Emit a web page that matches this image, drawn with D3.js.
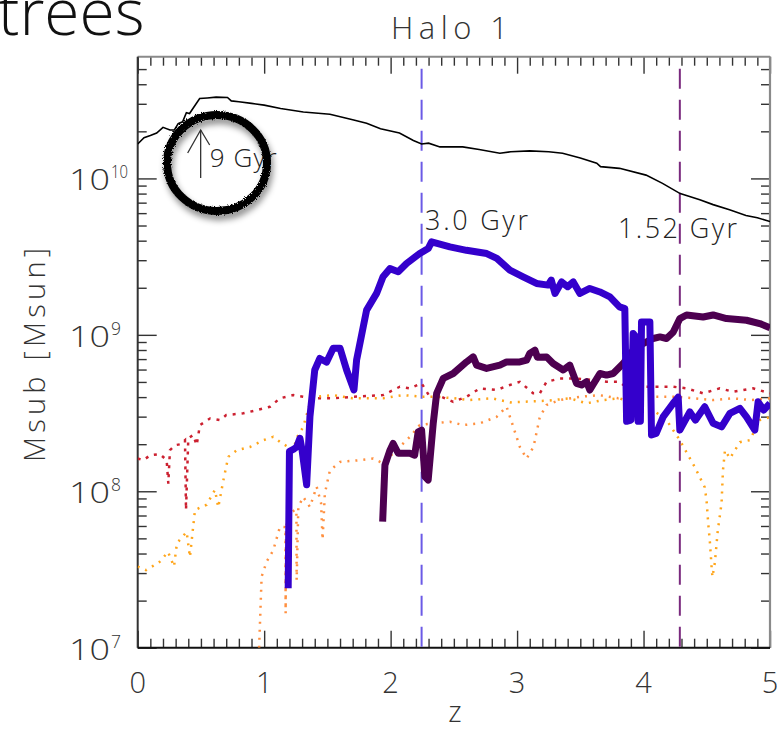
<!DOCTYPE html>
<html>
<head>
<meta charset="utf-8">
<script src="https://cdn.jsdelivr.net/npm/d3@7"></script>
<style>
  html, body { margin: 0; padding: 0; background: #fff; }
  svg { display: block; }
  text { font-family: "Open Sans", "Lato", "DejaVu Sans", sans-serif; font-weight: 300; fill: #222; }
</style>
</head>
<body>
<svg id="chart" width="777" height="732"></svg>
<script>
// Halo 1: subhalo mass histories along the merger tree, Msub vs redshift z

const xTicks = [0, 1, 2, 3, 4, 5];
const yDecades = [7, 8, 9, 10];

// main halo
const mainHalo = [
  [0, 1.66e10], [0.05, 1.82e10], [0.10, 1.88e10], [0.15, 1.95e10], [0.20, 2.12e10],
  [0.255, 2.04e10], [0.29, 2.04e10], [0.32, 2.24e10], [0.355, 2.3e10], [0.385, 2.63e10],
  [0.41, 2.6e10], [0.43, 2.75e10], [0.49, 3.24e10], [0.55, 3.27e10], [0.62, 3.31e10],
  [0.71, 3.29e10], [0.74, 3.13e10], [0.80, 3.09e10], [0.90, 3.02e10], [1.0, 2.94e10],
  [1.13, 2.8e10], [1.31, 2.66e10], [1.52, 2.57e10], [1.70, 2.37e10], [1.81, 2.25e10],
  [1.92, 2.08e10], [2.07, 1.95e10], [2.18, 1.75e10], [2.245, 1.66e10], [2.30, 1.68e10],
  [2.39, 1.59e10], [2.57, 1.59e10], [2.70, 1.53e10], [2.864, 1.45e10], [2.95, 1.48e10],
  [3.10, 1.5e10], [3.25, 1.48e10], [3.36, 1.45e10], [3.50, 1.35e10], [3.63, 1.25e10],
  [3.66, 1.19e10], [3.81, 1.16e10], [4.02, 1.05e10], [4.15, 9.3e9], [4.29, 8.0e9],
  [4.445, 7.3e9], [4.55, 6.8e9], [4.68, 6.3e9], [4.81, 5.8e9], [4.9, 5.6e9], [5.0, 5.3e9]
];

// subhalo A (thick blue)
const subBlue = [
  [1.19, 2.4e7], [1.20, 1.8e8], [1.23, 1.85e8], [1.257, 1.92e8], [1.283, 2.18e8],
  [1.30, 1.83e8], [1.336, 1.1e8], [1.362, 3.0e8], [1.40, 5.96e8], [1.44, 7.06e8],
  [1.494, 6.7e8], [1.546, 8.2e8], [1.60, 8.2e8], [1.652, 5.96e8], [1.71, 4.44e8],
  [1.731, 6.9e8], [1.783, 1.12e9], [1.81, 1.44e9], [1.889, 1.84e9], [1.94, 2.35e9],
  [1.995, 2.65e9], [2.06, 2.53e9], [2.126, 2.86e9], [2.23, 3.31e9], [2.297, 3.56e9],
  [2.324, 3.93e9], [2.469, 3.65e9], [2.60, 3.47e9], [2.76, 3.31e9], [2.84, 3.08e9],
  [2.943, 2.59e9], [3.048, 2.35e9], [3.154, 2.13e9], [3.246, 2.08e9], [3.27, 2.24e9],
  [3.30, 1.84e9], [3.352, 2.18e9], [3.40, 2.03e9], [3.444, 2.18e9], [3.497, 1.84e9],
  [3.575, 1.98e9], [3.655, 1.88e9], [3.734, 1.75e9], [3.81, 1.51e9], [3.852, 1.47e9],
  [3.866, 2.8e8], [3.90, 2.85e8], [3.918, 1.02e9], [3.94, 9.7e8], [3.957, 2.8e8],
  [3.975, 2.8e8], [3.984, 1.21e9], [4.05, 1.21e9], [4.063, 2.29e8], [4.10, 2.34e8],
  [4.155, 2.99e8], [4.234, 3.65e8], [4.274, 4.0e8], [4.287, 2.46e8], [4.366, 3.22e8],
  [4.41, 2.85e8], [4.484, 3.47e8], [4.55, 2.72e8], [4.617, 2.58e8], [4.683, 3.15e8],
  [4.762, 3.39e8], [4.814, 2.99e8], [4.88, 2.46e8], [4.906, 3.73e8], [4.95, 3.3e8],
  [5.0, 3.65e8]
];

// subhalo B (thick dark purple)
const subPurple = [
  [1.937, 6.4e7], [1.955, 1.47e8], [1.995, 1.83e8], [2.02, 2.02e8], [2.06, 1.75e8],
  [2.153, 1.75e8], [2.19, 1.7e8], [2.218, 2.4e8], [2.245, 2.46e8], [2.271, 1.24e8],
  [2.297, 1.18e8], [2.337, 2.72e8], [2.364, 4.23e8], [2.416, 5.27e8], [2.495, 5.66e8],
  [2.60, 6.71e8], [2.653, 7.23e8], [2.68, 6.4e8], [2.759, 6.1e8], [2.864, 6.4e8],
  [2.917, 6.71e8], [3.022, 6.71e8], [3.075, 6.89e8], [3.10, 7.6e8], [3.141, 7.98e8],
  [3.16, 7.2e8], [3.233, 7.23e8], [3.285, 6.56e8], [3.365, 5.96e8], [3.417, 6.4e8],
  [3.47, 4.9e8], [3.51, 4.78e8], [3.549, 5.01e8], [3.575, 4.44e8], [3.60, 4.8e8],
  [3.655, 5.66e8], [3.707, 5.53e8], [3.76, 5.66e8], [3.839, 6.56e8], [3.918, 7.98e8],
  [3.971, 8.59e8], [4.024, 9.02e8], [4.076, 9.48e8], [4.13, 9.7e8], [4.182, 9.48e8],
  [4.234, 1.04e9], [4.287, 1.27e9], [4.34, 1.34e9], [4.471, 1.3e9], [4.55, 1.34e9],
  [4.656, 1.27e9], [4.814, 1.24e9], [4.919, 1.18e9], [5.0, 1.11e9]
];

// thin dotted companions
const subRed = [
  [0, 1.62e8], [0.044, 1.58e8], [0.10, 1.7e8], [0.176, 1.73e8], [0.229, 1.58e8],
  [0.242, 1.12e8], [0.255, 1.83e8], [0.295, 1.97e8], [0.34, 2.0e8], [0.374, 2.12e8],
  [0.382, 7.6e7], [0.40, 2.18e8], [0.44, 2.29e8], [0.466, 1.97e8], [0.492, 2.65e8],
  [0.572, 2.92e8], [0.65, 2.85e8], [0.70, 3.07e8], [0.835, 3.15e8], [0.94, 3.3e8],
  [1.046, 3.47e8], [1.125, 3.93e8], [1.23, 4.12e8], [1.283, 4.05e8], [1.388, 3.93e8],
  [1.55, 3.93e8], [1.704, 4.02e8], [1.94, 4.12e8], [2.073, 4.66e8], [2.15, 4.55e8],
  [2.245, 4.9e8], [2.31, 4.02e8], [2.40, 4.02e8], [2.495, 3.73e8], [2.60, 4.02e8],
  [2.706, 4.55e8], [2.838, 4.44e8], [2.943, 4.78e8], [3.022, 5.01e8], [3.127, 4.23e8],
  [3.18, 4.23e8], [3.233, 5.01e8], [3.338, 5.26e8], [3.45, 5.26e8], [3.60, 5.14e8],
  [3.707, 5.01e8], [3.81, 5.01e8], [3.89, 4.44e8], [3.97, 4.66e8], [4.076, 4.66e8],
  [4.234, 4.66e8], [4.34, 4.55e8], [4.471, 4.23e8], [4.603, 4.55e8], [4.708, 4.33e8],
  [4.866, 4.55e8], [5.0, 4.23e8]
];

const subGold = [
  [0, 3.3e7], [0.066, 3.13e7], [0.176, 3.55e7], [0.24, 4.1e7], [0.287, 3.3e7],
  [0.31, 4.65e7], [0.387, 5.5e7], [0.413, 3.8e7], [0.453, 7.6e7], [0.545, 8.2e7],
  [0.611, 1.02e8], [0.637, 7.9e7], [0.677, 1.17e8], [0.716, 1.66e8], [0.783, 1.83e8],
  [0.888, 1.92e8], [0.993, 2.12e8], [1.072, 2.23e8], [1.125, 2.07e8], [1.23, 1.83e8],
  [1.257, 2.2e8], [1.309, 2.58e8], [1.362, 3.65e8], [1.415, 4.02e8], [1.546, 4.12e8],
  [1.70, 3.93e8], [1.94, 3.93e8], [2.10, 4.12e8], [2.245, 4.02e8], [2.364, 4.02e8],
  [2.50, 3.93e8], [2.627, 3.83e8], [2.80, 3.93e8], [2.95, 3.7e8], [3.10, 3.75e8],
  [3.25, 3.8e8], [3.417, 3.93e8], [3.549, 3.65e8], [3.68, 3.83e8], [3.81, 3.93e8],
  [3.92, 3.65e8], [4.00, 3.3e8], [4.076, 3.3e8], [4.182, 2.85e8], [4.287, 2.12e8],
  [4.405, 1.43e8], [4.484, 1.06e8], [4.498, 8.8e7], [4.511, 6.3e7], [4.525, 4.7e7],
  [4.538, 3.3e7], [4.545, 2.83e7], [4.564, 3.5e7], [4.587, 5.6e7], [4.617, 8.4e7],
  [4.628, 1.36e8], [4.644, 1.83e8], [4.683, 1.62e8], [4.762, 2.06e8], [4.84, 2.12e8],
  [4.919, 2.85e8], [5.0, 2.98e8]
];

const subOrange = [
  [0.96, 1.0e7], [0.98, 2.85e7], [1.02, 3.55e7], [1.072, 4.2e7], [1.125, 5.93e7],
  [1.168, 5.9e7], [1.17, 1.66e7], [1.172, 5.9e7], [1.204, 7.23e7], [1.243, 7.6e7],
  [1.255, 7.6e7], [1.257, 2.71e7], [1.27, 7.94e7], [1.309, 9.2e7], [1.362, 7.94e7],
  [1.415, 1.07e8], [1.45, 8.4e7], [1.462, 4.9e7], [1.48, 9.7e7], [1.52, 1.36e8],
  [1.60, 1.54e8], [1.757, 1.58e8], [1.862, 1.62e8], [1.94, 1.51e8], [2.02, 1.75e8],
  [2.153, 2.23e8], [2.23, 2.65e8], [2.337, 2.72e8], [2.47, 2.78e8], [2.574, 2.65e8],
  [2.706, 2.72e8], [2.838, 2.99e8], [2.917, 3.47e8], [2.97, 2.58e8], [3.022, 1.92e8],
  [3.075, 1.62e8], [3.13, 1.92e8], [3.18, 2.99e8], [3.233, 3.56e8], [3.338, 3.83e8],
  [3.50, 4.02e8], [3.65, 4.12e8], [3.80, 3.93e8], [3.95, 4.12e8], [4.10, 4.02e8],
  [4.25, 4.02e8], [4.40, 3.93e8], [4.55, 3.83e8], [4.70, 3.93e8], [4.85, 3.83e8],
  [5.0, 3.93e8]
];

// accretion redshifts of the two subhaloes and their lookback labels
const markerZ = [2.245, 4.287];
const markerLabels = ["3.0  Gyr", "1.52  Gyr"];
const arrowZ = 0.49;
const arrowLabel = "9  Gyr";

const svg = d3.select("#chart");
const X0 = 137.7, X1 = 770, Y0 = 647.7, Y1 = 56.7;

const x = d3.scaleLinear().domain([0, 5]).range([X0, X1]);
const y = d3.scaleLog().domain([1e7, 6e10]).range([Y0, Y1]);

svg.append("defs").append("clipPath").attr("id", "plot")
  .append("rect").attr("x", X0).attr("y", Y1).attr("width", X1 - X0).attr("height", Y0 - Y1);

const defs = svg.select("defs");
const shadow = defs.append("filter").attr("id", "ringShadow")
  .attr("x", "-30%").attr("y", "-30%").attr("width", "160%").attr("height", "160%");
shadow.append("feTurbulence").attr("type", "fractalNoise").attr("baseFrequency", 0.9)
  .attr("numOctaves", 2).attr("result", "noise");
shadow.append("feDisplacementMap").attr("in", "SourceGraphic").attr("in2", "noise")
  .attr("scale", 3.5).attr("result", "rough");
shadow.append("feGaussianBlur").attr("in", "rough").attr("stdDeviation", 3).attr("result", "blur");
shadow.append("feOffset").attr("in", "blur").attr("dx", 2).attr("dy", 5).attr("result", "off");
shadow.append("feColorMatrix").attr("in", "off").attr("type", "matrix")
  .attr("values", "0 0 0 0 0  0 0 0 0 0  0 0 0 0 0  0 0 0 0.45 0").attr("result", "sh");
const merge = shadow.append("feMerge");
merge.append("feMergeNode").attr("in", "sh");
merge.append("feMergeNode").attr("in", "rough");

// slide heading, partly cut off at the top
svg.append("text").attr("x", -2).attr("y", 35)
  .style("font-size", "64px").style("fill", "#111").style("font-weight", 300)
  .text("trees");

// title
svg.append("text").attr("x", 391).attr("y", 39)
  .attr("textLength", 117).attr("lengthAdjust", "spacing")
  .style("font-size", "31px").style("fill", "#333")
  .text("Halo  1");

// ticks
const tickColor = "#333";
const minorX = d3.range(0, 50).map(i => i / 10).filter(v => Math.abs(v - Math.round(v)) > 1e-6);
const minorY = [];
yDecades.forEach(d => { for (let k = 2; k <= 9; k++) { const v = k * Math.pow(10, d); if (v < 6e10) minorY.push(v); } });
const majorY = yDecades.map(d => Math.pow(10, d));

function axisGroup(gen, tx, ty) {
  const g = svg.append("g").attr("transform", `translate(${tx},${ty})`).call(gen);
  g.select(".domain").remove();
  g.selectAll("line").attr("stroke", tickColor).attr("stroke-width", 1.4);
  g.selectAll("text").remove();
  return g;
}
axisGroup(d3.axisBottom(x).tickValues(xTicks).tickSize(-17).tickSizeOuter(0), 0, Y0);
axisGroup(d3.axisBottom(x).tickValues(minorX).tickSize(-9).tickSizeOuter(0), 0, Y0);
axisGroup(d3.axisTop(x).tickValues(xTicks).tickSize(-17).tickSizeOuter(0), 0, Y1);
axisGroup(d3.axisTop(x).tickValues(minorX).tickSize(-9).tickSizeOuter(0), 0, Y1);
axisGroup(d3.axisLeft(y).tickValues(majorY).tickSize(-19).tickSizeOuter(0), X0, 0);
axisGroup(d3.axisLeft(y).tickValues(minorY).tickSize(-9).tickSizeOuter(0), X0, 0);
axisGroup(d3.axisRight(y).tickValues(majorY).tickSize(-19).tickSizeOuter(0), X1, 0);
axisGroup(d3.axisRight(y).tickValues(minorY).tickSize(-9).tickSizeOuter(0), X1, 0);

// frame
svg.append("line").attr("x1", X0).attr("x2", X1).attr("y1", Y1).attr("y2", Y1).attr("stroke", "#8a8a8a").attr("stroke-width", 2);
svg.append("line").attr("x1", X1).attr("x2", X1).attr("y1", Y1).attr("y2", Y0).attr("stroke", "#8a8a8a").attr("stroke-width", 2.2);
svg.append("line").attr("x1", X0).attr("x2", X0).attr("y1", Y1).attr("y2", Y0).attr("stroke", "#333").attr("stroke-width", 2);
svg.append("line").attr("x1", X0).attr("x2", X1).attr("y1", Y0).attr("y2", Y0).attr("stroke", "#111").attr("stroke-width", 2);

// tick labels
svg.selectAll(".xlab").data(xTicks).join("text").attr("class", "xlab")
  .attr("x", d => x(d)).attr("y", 693).attr("text-anchor", "middle")
  .style("font-size", "29px").style("fill", "#333").text(d => d);

svg.selectAll(".ylab").data(yDecades).join("text").attr("class", "ylab")
  .attr("x", 69).attr("y", d => y(Math.pow(10, d)) + 12)
  .attr("textLength", 41).attr("lengthAdjust", "spacingAndGlyphs")
  .style("font-size", "29px").style("fill", "#333").text("10");
svg.selectAll(".ysup").data(yDecades).join("text").attr("class", "ysup")
  .attr("x", 111).attr("y", d => y(Math.pow(10, d)) + 0)
  .attr("textLength", d => d >= 10 ? 17 : 10).attr("lengthAdjust", "spacingAndGlyphs")
  .style("font-size", "19px").style("fill", "#333").text(d => d);

// axis titles
svg.append("text").attr("x", 455).attr("y", 722).attr("text-anchor", "middle")
  .style("font-size", "29px").style("fill", "#333").text("z");
svg.append("text").attr("transform", "translate(45,355) rotate(-90)")
  .attr("text-anchor", "middle").attr("textLength", 214).attr("lengthAdjust", "spacing")
  .style("font-size", "29px").style("fill", "#333").text("Msub  [Msun]");

// data layer
const plot = svg.append("g").attr("clip-path", "url(#plot)");
const line = d3.line().x(d => x(d[0])).y(d => y(d[1]));

// accretion markers
const markerColors = ["#6b5ae6", "#7a2a7e"];
plot.selectAll(".marker").data(markerZ).join("line").attr("class", "marker")
  .attr("x1", d => x(d)).attr("x2", d => x(d)).attr("y1", Y1 + 12).attr("y2", Y0)
  .attr("stroke", (d, i) => markerColors[i]).attr("stroke-width", 2)
  .attr("stroke-dasharray", "20,11");

plot.append("path").datum(subRed).attr("d", line).attr("fill", "none")
  .attr("stroke", "#cc2030").attr("stroke-width", 2.5).attr("stroke-dasharray", "3,6");
plot.append("path").datum(subOrange).attr("d", line).attr("fill", "none")
  .attr("stroke", "#ff9040").attr("stroke-width", 2.5).attr("stroke-dasharray", "2,6");
plot.append("path").datum(subGold).attr("d", line).attr("fill", "none")
  .attr("stroke", "#ffa51a").attr("stroke-width", 2.5).attr("stroke-dasharray", "2,6");

plot.append("path").datum(subPurple).attr("d", line).attr("fill", "none")
  .attr("stroke", "#4d0050").attr("stroke-width", 7).attr("stroke-linejoin", "round");
plot.append("path").datum(subBlue).attr("d", line).attr("fill", "none")
  .attr("stroke", "#3400cc").attr("stroke-width", 7).attr("stroke-linejoin", "round");
plot.append("path").datum(mainHalo).attr("d", line).attr("fill", "none")
  .attr("stroke", "#000").attr("stroke-width", 1.6);

// marker labels
const labelPos = [[425, 230, 103], [618, 238, 119]];
svg.selectAll(".mlab").data(markerLabels).join("text").attr("class", "mlab")
  .attr("x", (d, i) => labelPos[i][0]).attr("y", (d, i) => labelPos[i][1])
  .attr("textLength", (d, i) => labelPos[i][2]).attr("lengthAdjust", "spacing")
  .style("font-size", "27px").style("fill", "#222").text(d => d);

// 9 Gyr arrow and label
const ax = x(arrowZ);
svg.append("line").attr("x1", ax + 1).attr("x2", ax + 1).attr("y1", 178).attr("y2", 130)
  .attr("stroke", "#333").attr("stroke-width", 1.3);
svg.append("path").attr("d", `M${ax - 12},${153} L${ax + 1},${130} L${ax + 10},${145}`)
  .attr("fill", "none").attr("stroke", "#333").attr("stroke-width", 1.3);
svg.append("text").attr("x", ax + 10).attr("y", 167)
  .attr("textLength", 67).attr("lengthAdjust", "spacing")
  .style("font-size", "26px").style("fill", "#222").text(arrowLabel);

// hand-drawn highlight ring
svg.append("ellipse").attr("cx", 217).attr("cy", 163).attr("rx", 50).attr("ry", 48)
  .attr("fill", "none").attr("stroke", "#000").attr("stroke-width", 8)
  .attr("filter", "url(#ringShadow)");
</script>
</body>
</html>
